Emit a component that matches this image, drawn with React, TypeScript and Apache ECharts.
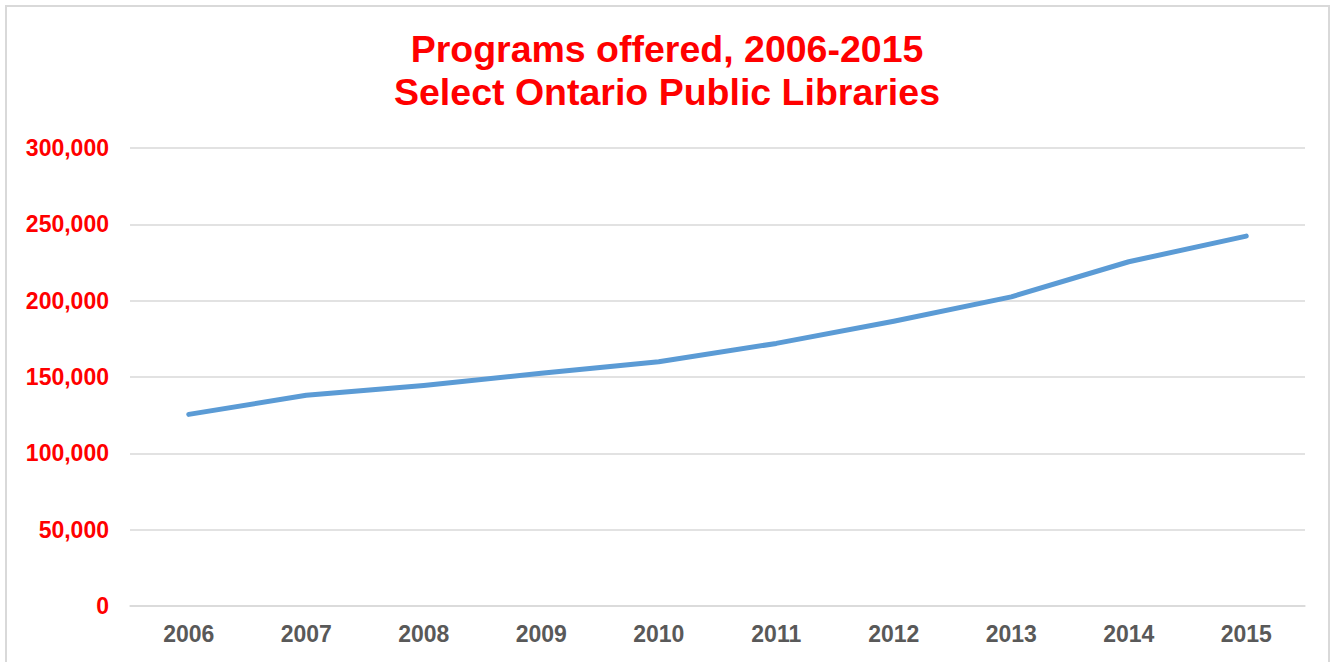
import React, { useEffect, useRef } from "react";
import * as echarts from "echarts";

const years = ["2006", "2007", "2008", "2009", "2010", "2011", "2012", "2013", "2014", "2015"];
const programs = [125500, 138000, 144500, 152500, 160000, 172000, 186500, 202500, 225500, 242300];
const yTicks = { min: 0, max: 300000, interval: 50000 };
const titleText = "Programs offered, 2006-2015\nSelect Ontario Public Libraries";

export default function App() {
  const ref = useRef<HTMLDivElement>(null);
  useEffect(() => {
    if (!ref.current) return;
    const chart = echarts.init(ref.current, null, { renderer: "svg" });
    chart.setOption({
      animation: false,
      backgroundColor: "#ffffff",
      textStyle: { fontFamily: "Liberation Sans, Arial, sans-serif" },
      title: {
        text: titleText,
        left: "center",
        top: 22,
        textStyle: {
          color: "#ff0000",
          fontSize: 37.5,
          fontWeight: "bold",
          lineHeight: 43,
          fontFamily: "Liberation Sans, Arial, sans-serif",
        },
      },
      graphic: [
        {
          type: "rect",
          shape: { x: 6, y: 6, width: 1323, height: 662 },
          style: { fill: "none", stroke: "#d9d9d9", lineWidth: 2 },
          silent: true,
        },
      ],
      grid: { left: 130, right: 29, top: 148, bottom: 56, containLabel: false },
      xAxis: {
        type: "category",
        data: years,
        boundaryGap: true,
        axisLine: { show: true, lineStyle: { color: "#d9d9d9", width: 1.5 } },
        axisTick: { show: false },
        axisLabel: {
          color: "#595959",
          fontSize: 23,
          fontWeight: "bold",
          margin: 16,
          fontFamily: "Liberation Sans, Arial, sans-serif",
        },
      },
      yAxis: {
        type: "value",
        min: yTicks.min,
        max: yTicks.max,
        interval: yTicks.interval,
        axisLine: { show: false },
        axisTick: { show: false },
        splitLine: { lineStyle: { color: "#d9d9d9", width: 1.5 } },
        axisLabel: {
          color: "#ff0000",
          fontSize: 23,
          fontWeight: "bold",
          margin: 21,
          fontFamily: "Liberation Sans, Arial, sans-serif",
          formatter: (v: number) => v.toLocaleString("en-US"),
        },
      },
      series: [
        {
          type: "line",
          data: programs,
          showSymbol: false,
          symbol: "none",
          lineStyle: { color: "#5b9bd5", width: 5, cap: "round", join: "round" },
          itemStyle: { color: "#5b9bd5" },
        },
      ],
    });
    return () => chart.dispose();
  }, []);
  return (
    <div
      ref={ref}
      style={{ position: "fixed", left: 0, top: 0, width: 1334, height: 662 }}
    />
  );
}
